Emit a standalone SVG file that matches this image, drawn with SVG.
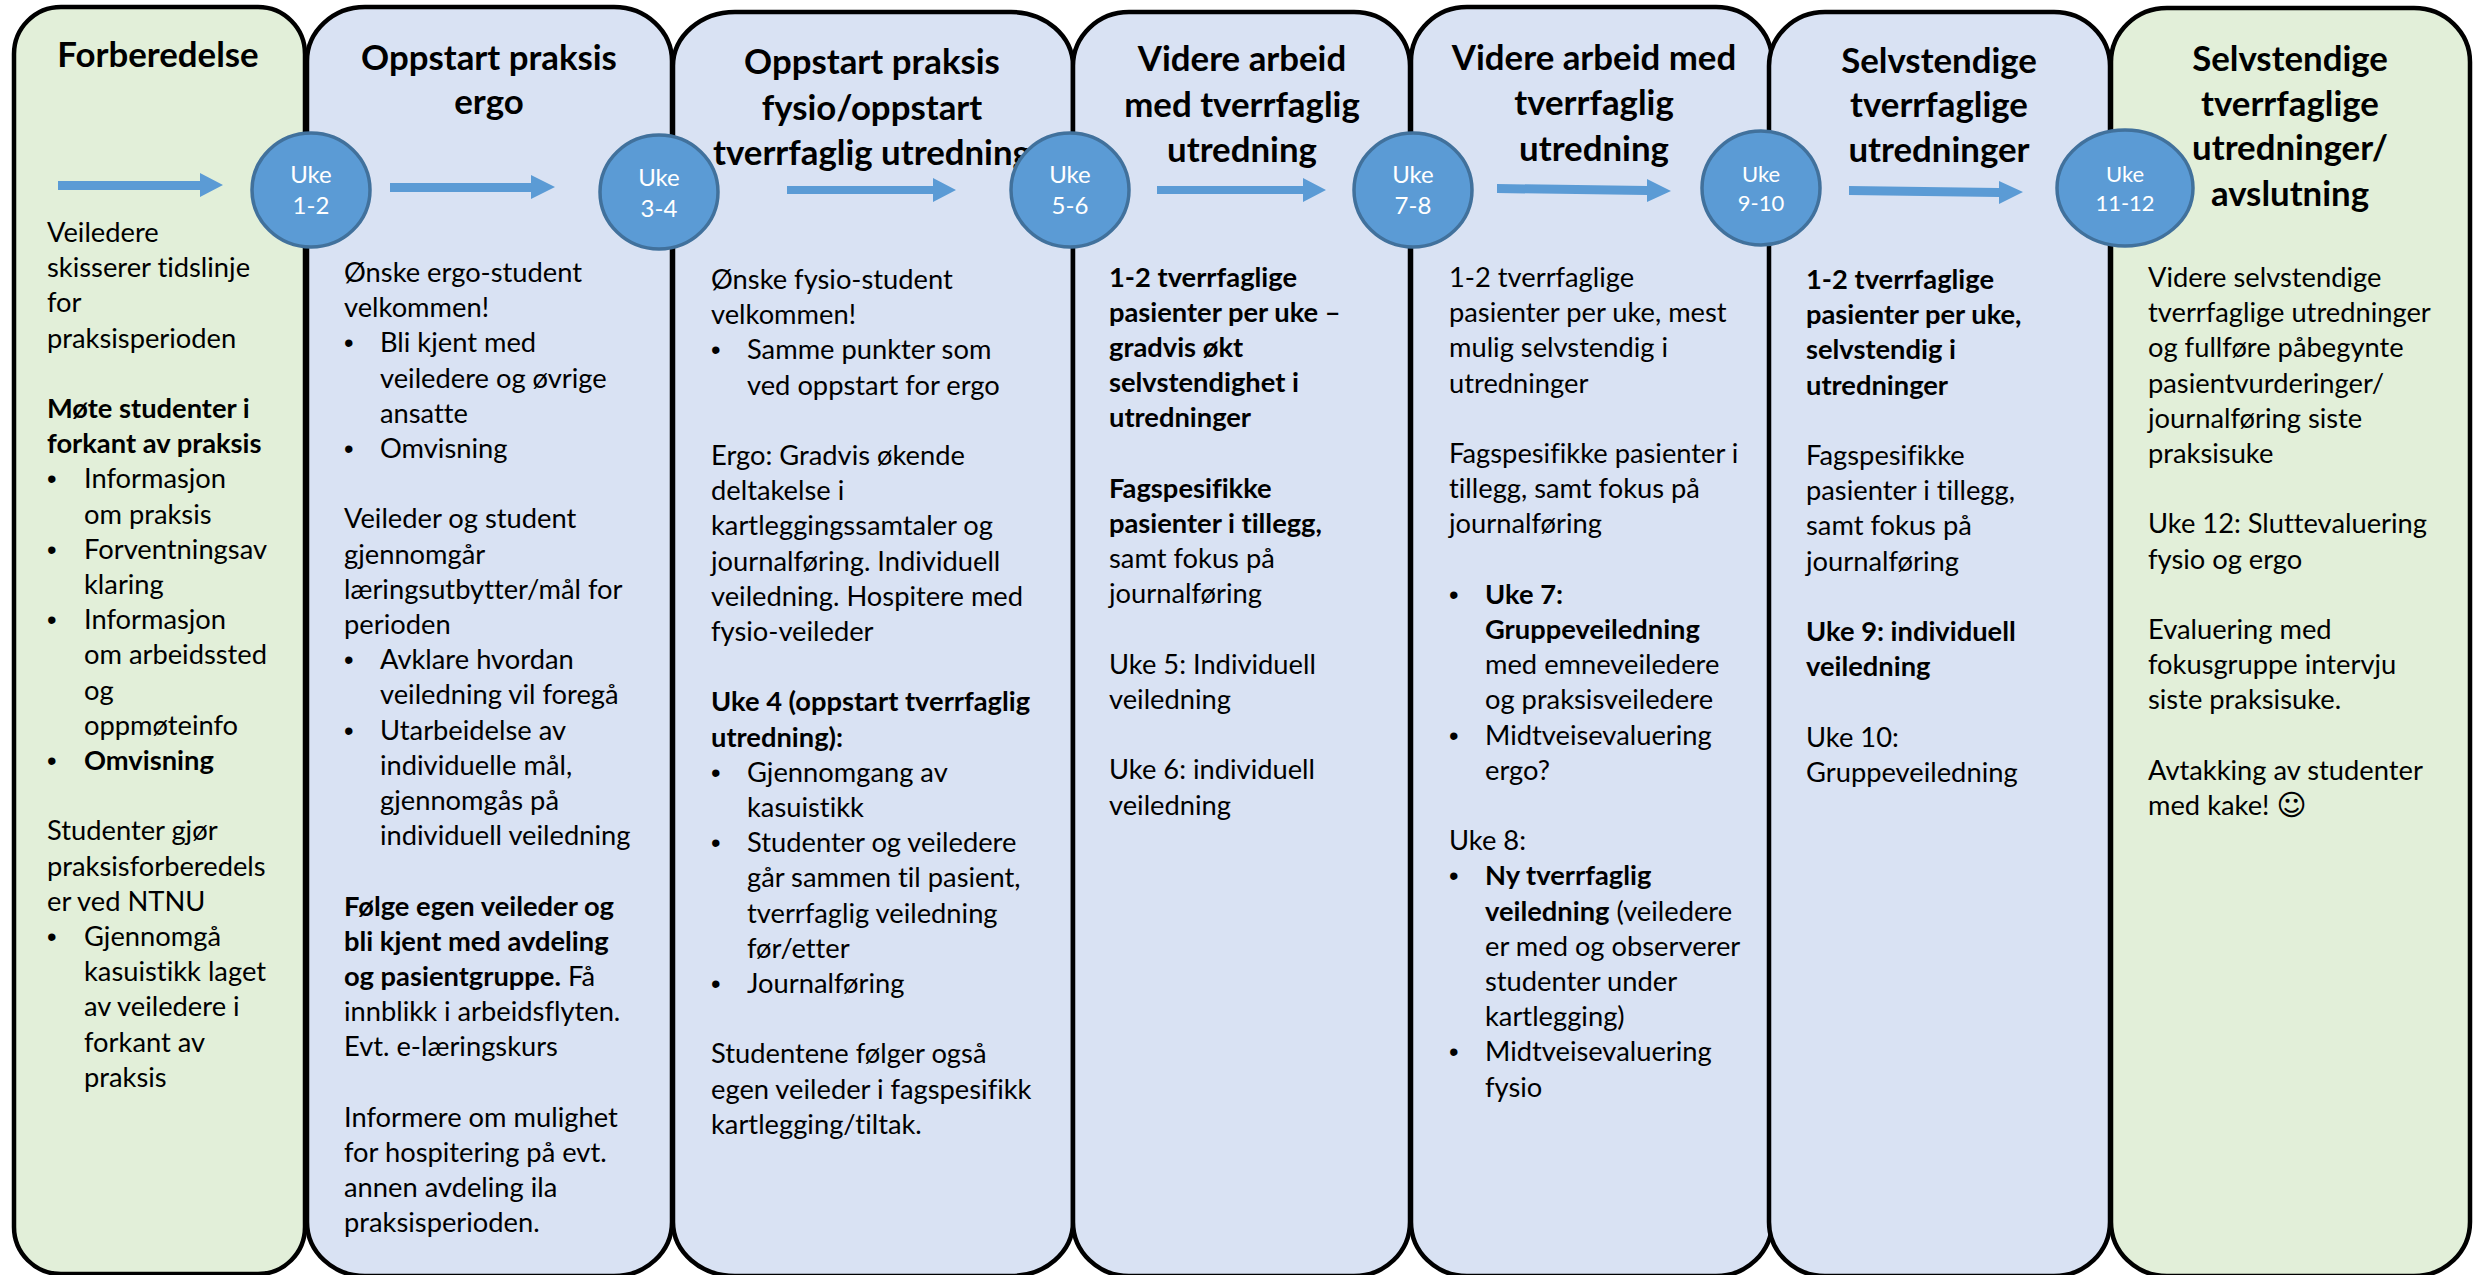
<svg xmlns="http://www.w3.org/2000/svg" width="2473" height="1275" viewBox="0 0 2473 1275">
<style>
.g{fill:#E2EFD9;stroke:#000;stroke-width:4.5}
.l{fill:#D9E2F3;stroke:#000;stroke-width:4.5}
.c{fill:#5B9BD5;stroke:#41719C;stroke-width:3.5}
.a{fill:#5B9BD5}
text{font-family:Lato,Carlito,"Open Sans",sans-serif;fill:#000;font-variant-ligatures:none}
.t{font-size:34.8px;font-weight:700;text-anchor:middle}
.x{font-size:27.3px}
.s{font-weight:700}
.d{font-family:"Liberation Sans",Arial,sans-serif;font-weight:400}
.e{font-family:"DejaVu Sans",sans-serif;font-size:29px}
.u{font-size:24px;fill:#fff;text-anchor:middle}
.v{font-size:22px;fill:#fff;text-anchor:middle}
</style>
<rect width="2473" height="1275" fill="#fff"/>
<g id="col1">
<rect class="g" x="14" y="7" width="291" height="1267" rx="47" ry="47"/>
<text class="t" x="158" y="67">Forberedelse</text>
<text class="x" x="47" y="242"><tspan x="47">Veiledere</tspan><tspan x="47" dy="35.2">skisserer tidslinje</tspan><tspan x="47" dy="35.2">for</tspan><tspan x="47" dy="35.2">praksisperioden</tspan><tspan class="s" x="47" dy="70.4">Møte studenter i</tspan><tspan class="s" x="47" dy="35.2">forkant av praksis</tspan><tspan class="d" x="47" dy="35.2">•</tspan><tspan x="84">Informasjon</tspan><tspan x="84" dy="35.2">om praksis</tspan><tspan class="d" x="47" dy="35.2">•</tspan><tspan x="84">Forventningsav</tspan><tspan x="84" dy="35.2">klaring</tspan><tspan class="d" x="47" dy="35.2">•</tspan><tspan x="84">Informasjon</tspan><tspan x="84" dy="35.2">om arbeidssted</tspan><tspan x="84" dy="35.2">og</tspan><tspan x="84" dy="35.2">oppmøteinfo</tspan><tspan class="d" x="47" dy="35.2">•</tspan><tspan class="s" x="84">Omvisning</tspan><tspan x="47" dy="70.4">Studenter gjør</tspan><tspan x="47" dy="35.2">praksisforberedels</tspan><tspan x="47" dy="35.2">er ved NTNU</tspan><tspan class="d" x="47" dy="35.2">•</tspan><tspan x="84">Gjennomgå</tspan><tspan x="84" dy="35.2">kasuistikk laget</tspan><tspan x="84" dy="35.2">av veiledere i</tspan><tspan x="84" dy="35.2">forkant av</tspan><tspan x="84" dy="35.2">praksis</tspan></text>
</g>
<g id="col2">
<rect class="l" x="307" y="7" width="365" height="1269" rx="58" ry="54"/>
<text class="t" x="489" y="70">Oppstart praksis</text>
<text class="t" x="489" y="114">ergo</text>
<text class="x" x="344" y="282"><tspan x="344">Ønske ergo-student</tspan><tspan x="344" dy="35.2">velkommen!</tspan><tspan class="d" x="344" dy="35.2">•</tspan><tspan x="380">Bli kjent med</tspan><tspan x="380" dy="35.2">veiledere og øvrige</tspan><tspan x="380" dy="35.2">ansatte</tspan><tspan class="d" x="344" dy="35.2">•</tspan><tspan x="380">Omvisning</tspan><tspan x="344" dy="70.4">Veileder og student</tspan><tspan x="344" dy="35.2">gjennomgår</tspan><tspan x="344" dy="35.2">læringsutbytter/mål for</tspan><tspan x="344" dy="35.2">perioden</tspan><tspan class="d" x="344" dy="35.2">•</tspan><tspan x="380">Avklare hvordan</tspan><tspan x="380" dy="35.2">veiledning vil foregå</tspan><tspan class="d" x="344" dy="35.2">•</tspan><tspan x="380">Utarbeidelse av</tspan><tspan x="380" dy="35.2">individuelle mål,</tspan><tspan x="380" dy="35.2">gjennomgås på</tspan><tspan x="380" dy="35.2">individuell veiledning</tspan><tspan class="s" x="344" dy="70.4">Følge egen veileder og</tspan><tspan class="s" x="344" dy="35.2">bli kjent med avdeling</tspan><tspan class="s" x="344" dy="35.2">og pasientgruppe.</tspan><tspan> Få</tspan><tspan x="344" dy="35.2">innblikk i arbeidsflyten.</tspan><tspan x="344" dy="35.2">Evt. e-læringskurs</tspan><tspan x="344" dy="70.4">Informere om mulighet</tspan><tspan x="344" dy="35.2">for hospitering på evt.</tspan><tspan x="344" dy="35.2">annen avdeling ila</tspan><tspan x="344" dy="35.2">praksisperioden.</tspan></text>
</g>
<g id="col3">
<rect class="l" x="673" y="12" width="400" height="1264" rx="62" ry="54"/>
<text class="t" x="872" y="74">Oppstart praksis</text>
<text class="t" x="872" y="120">fysio/oppstart</text>
<text class="t" x="872" y="165">tverrfaglig utredning</text>
<text class="x" x="711" y="289"><tspan x="711">Ønske fysio-student</tspan><tspan x="711" dy="35.2">velkommen!</tspan><tspan class="d" x="711" dy="35.2">•</tspan><tspan x="747">Samme punkter som</tspan><tspan x="747" dy="35.2">ved oppstart for ergo</tspan><tspan x="711" dy="70.4">Ergo: Gradvis økende</tspan><tspan x="711" dy="35.2">deltakelse i</tspan><tspan x="711" dy="35.2">kartleggingssamtaler og</tspan><tspan x="711" dy="35.2">journalføring. Individuell</tspan><tspan x="711" dy="35.2">veiledning. Hospitere med</tspan><tspan x="711" dy="35.2">fysio-veileder</tspan><tspan class="s" x="711" dy="70.4">Uke 4 (oppstart tverrfaglig</tspan><tspan class="s" x="711" dy="35.2">utredning):</tspan><tspan class="d" x="711" dy="35.2">•</tspan><tspan x="747">Gjennomgang av</tspan><tspan x="747" dy="35.2">kasuistikk</tspan><tspan class="d" x="711" dy="35.2">•</tspan><tspan x="747">Studenter og veiledere</tspan><tspan x="747" dy="35.2">går sammen til pasient,</tspan><tspan x="747" dy="35.2">tverrfaglig veiledning</tspan><tspan x="747" dy="35.2">før/etter</tspan><tspan class="d" x="711" dy="35.2">•</tspan><tspan x="747">Journalføring</tspan><tspan x="711" dy="70.4">Studentene følger også</tspan><tspan x="711" dy="35.2">egen veileder i fagspesifikk</tspan><tspan x="711" dy="35.2">kartlegging/tiltak.</tspan></text>
</g>
<g id="col4">
<rect class="l" x="1073" y="12" width="337" height="1264" rx="56" ry="54"/>
<text class="t" x="1242" y="71">Videre arbeid</text>
<text class="t" x="1242" y="117">med tverrfaglig</text>
<text class="t" x="1242" y="162">utredning</text>
<text class="x" x="1109" y="286.5"><tspan class="s" x="1109">1-2 tverrfaglige</tspan><tspan class="s" x="1109" dy="35.2">pasienter per uke –</tspan><tspan class="s" x="1109" dy="35.2">gradvis økt</tspan><tspan class="s" x="1109" dy="35.2">selvstendighet i</tspan><tspan class="s" x="1109" dy="35.2">utredninger</tspan><tspan class="s" x="1109" dy="70.4">Fagspesifikke</tspan><tspan class="s" x="1109" dy="35.2">pasienter i tillegg,</tspan><tspan x="1109" dy="35.2">samt fokus på</tspan><tspan x="1109" dy="35.2">journalføring</tspan><tspan x="1109" dy="70.4">Uke 5: Individuell</tspan><tspan x="1109" dy="35.2">veiledning</tspan><tspan x="1109" dy="70.4">Uke 6: individuell</tspan><tspan x="1109" dy="35.2">veiledning</tspan></text>
</g>
<g id="col5">
<rect class="l" x="1411" y="7" width="361" height="1269" rx="56" ry="54"/>
<text class="t" x="1594" y="70">Videre arbeid med</text>
<text class="t" x="1594" y="115">tverrfaglig</text>
<text class="t" x="1594" y="161">utredning</text>
<text class="x" x="1449" y="287"><tspan x="1449">1-2 tverrfaglige</tspan><tspan x="1449" dy="35.2">pasienter per uke, mest</tspan><tspan x="1449" dy="35.2">mulig selvstendig i</tspan><tspan x="1449" dy="35.2">utredninger</tspan><tspan x="1449" dy="70.4">Fagspesifikke pasienter i</tspan><tspan x="1449" dy="35.2">tillegg, samt fokus på</tspan><tspan x="1449" dy="35.2">journalføring</tspan><tspan class="d" x="1449" dy="70.4">•</tspan><tspan class="s" x="1485">Uke 7:</tspan><tspan class="s" x="1485" dy="35.2">Gruppeveiledning</tspan><tspan x="1485" dy="35.2">med emneveiledere</tspan><tspan x="1485" dy="35.2">og praksisveiledere</tspan><tspan class="d" x="1449" dy="35.2">•</tspan><tspan x="1485">Midtveisevaluering</tspan><tspan x="1485" dy="35.2">ergo?</tspan><tspan x="1449" dy="70.4">Uke 8:</tspan><tspan class="d" x="1449" dy="35.2">•</tspan><tspan class="s" x="1485">Ny tverrfaglig</tspan><tspan class="s" x="1485" dy="35.2">veiledning</tspan><tspan> (veiledere</tspan><tspan x="1485" dy="35.2">er med og observerer</tspan><tspan x="1485" dy="35.2">studenter under</tspan><tspan x="1485" dy="35.2">kartlegging)</tspan><tspan class="d" x="1449" dy="35.2">•</tspan><tspan x="1485">Midtveisevaluering</tspan><tspan x="1485" dy="35.2">fysio</tspan></text>
</g>
<g id="col6">
<rect class="l" x="1769" y="12" width="341" height="1264" rx="56" ry="54"/>
<text class="t" x="1939" y="73">Selvstendige</text>
<text class="t" x="1939" y="117">tverrfaglige</text>
<text class="t" x="1939" y="162">utredninger</text>
<text class="x" x="1806" y="289"><tspan class="s" x="1806">1-2 tverrfaglige</tspan><tspan class="s" x="1806" dy="35.2">pasienter per uke,</tspan><tspan class="s" x="1806" dy="35.2">selvstendig i</tspan><tspan class="s" x="1806" dy="35.2">utredninger</tspan><tspan x="1806" dy="70.4">Fagspesifikke</tspan><tspan x="1806" dy="35.2">pasienter i tillegg,</tspan><tspan x="1806" dy="35.2">samt fokus på</tspan><tspan x="1806" dy="35.2">journalføring</tspan><tspan class="s" x="1806" dy="70.4">Uke 9: individuell</tspan><tspan class="s" x="1806" dy="35.2">veiledning</tspan><tspan x="1806" dy="70.4">Uke 10:</tspan><tspan x="1806" dy="35.2">Gruppeveiledning</tspan></text>
</g>
<g id="col7">
<rect class="g" x="2111" y="8" width="359" height="1268" rx="56" ry="54"/>
<text class="t" x="2290" y="71">Selvstendige</text>
<text class="t" x="2290" y="116">tverrfaglige</text>
<text class="t" x="2290" y="160">utredninger/</text>
<text class="t" x="2290" y="206">avslutning</text>
<text class="x" x="2148" y="287"><tspan x="2148">Videre selvstendige</tspan><tspan x="2148" dy="35.2">tverrfaglige utredninger</tspan><tspan x="2148" dy="35.2">og fullføre påbegynte</tspan><tspan x="2148" dy="35.2">pasientvurderinger/</tspan><tspan x="2148" dy="35.2">journalføring siste</tspan><tspan x="2148" dy="35.2">praksisuke</tspan><tspan x="2148" dy="70.4">Uke 12: Sluttevaluering</tspan><tspan x="2148" dy="35.2">fysio og ergo</tspan><tspan x="2148" dy="70.4">Evaluering med</tspan><tspan x="2148" dy="35.2">fokusgruppe intervju</tspan><tspan x="2148" dy="35.2">siste praksisuke.</tspan><tspan x="2148" dy="70.4">Avtakking av studenter</tspan><tspan x="2148" dy="35.2">med kake! </tspan><tspan class="e">☺</tspan></text>
</g>
<g id="connectors">
<polygon class="a" points="58,181 200,181 200,173 223,185 200,197 200,190 58,190"/>
<polygon class="a" points="390,183 531,183 531,175 555,187 531,199 531,192 390,192"/>
<polygon class="a" points="787,186 933,186 933,178 956,190 933,202 933,194 787,194"/>
<polygon class="a" points="1157,186 1303,186 1303,178 1326,190 1303,202 1303,194 1157,194"/>
<polygon class="a" points="1497,184 1647,186 1647,179 1671,191 1647,202 1647,195 1497,193"/>
<polygon class="a" points="1849,186 1999,188 1999,181 2023,192 1999,204 1999,197 1849,195"/>
</g>
<g id="uke1-2"><ellipse class="c" cx="311" cy="190" rx="59" ry="57"/><text class="u" x="311" y="183">Uke</text><text class="u" x="311" y="214">1-2</text></g>
<g id="uke3-4"><ellipse class="c" cx="659" cy="192" rx="59" ry="57"/><text class="u" x="659" y="186">Uke</text><text class="u" x="659" y="217">3-4</text></g>
<g id="uke5-6"><ellipse class="c" cx="1070" cy="190" rx="59" ry="57"/><text class="u" x="1070" y="183">Uke</text><text class="u" x="1070" y="214">5-6</text></g>
<g id="uke7-8"><ellipse class="c" cx="1413" cy="190" rx="59" ry="57"/><text class="u" x="1413" y="183">Uke</text><text class="u" x="1413" y="214">7-8</text></g>
<g id="uke9-10"><ellipse class="c" cx="1761" cy="188" rx="59" ry="57"/><text class="v" x="1761" y="182">Uke</text><text class="v" x="1761" y="211">9-10</text></g>
<g id="uke11-12"><ellipse class="c" cx="2125" cy="188" rx="68" ry="58"/><text class="v" x="2125" y="182">Uke</text><text class="v" x="2125" y="211">11-12</text></g>
</svg>
